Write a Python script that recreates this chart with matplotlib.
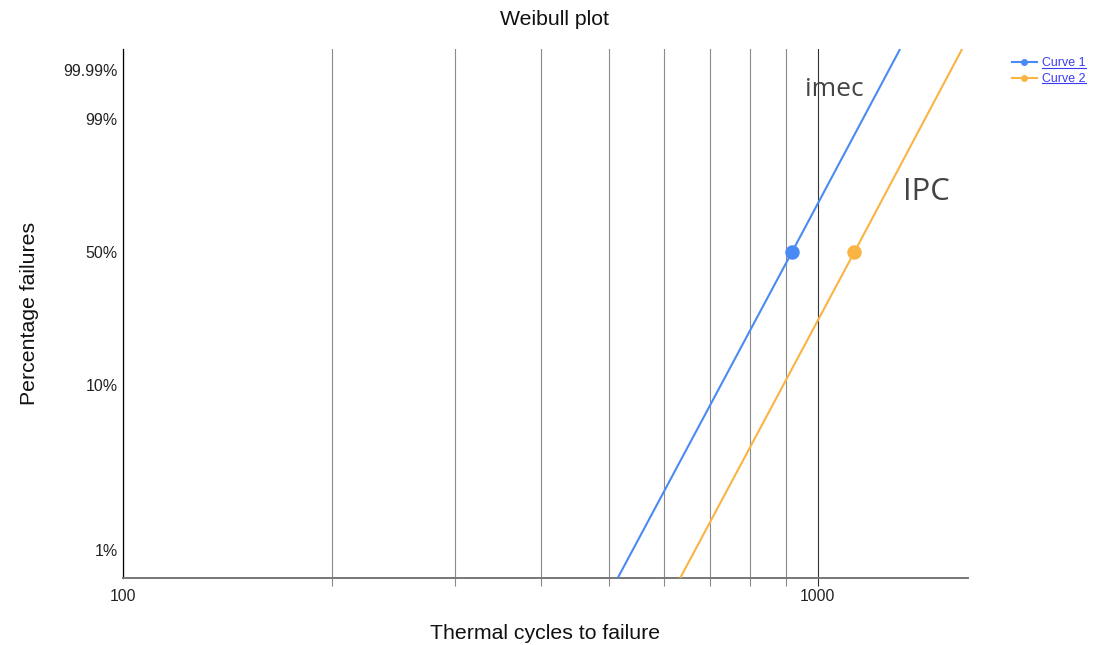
import numpy as np
import matplotlib
matplotlib.use("Agg")
import matplotlib.pyplot as plt
from matplotlib.lines import Line2D
from matplotlib.ticker import FixedLocator, NullLocator, NullFormatter
from matplotlib.transforms import IdentityTransform

# ---- data ----
series_names = ["Curve 1", "Curve 2"]
annot_labels = ["imec", "IPC"]
# points along each fitted line: (cycles, % failures); middle point = median marker
curve1_cycles = [515, 918, 1314]
curve1_pct = [0.6715, 50.0, 99.99960]
curve2_cycles = [633.5, 1129, 1614]
curve2_pct = [0.6715, 50.0, 99.99960]
y_ticks = [1, 10, 50, 99, 99.99]
y_tick_labels = ["1%", "10%", "50%", "99%", "99.99%"]
x_major = [100, 1000]
x_major_labels = ["100", "1000"]
x_minor = [200, 300, 400, 500, 600, 700, 800, 900]

BLUE = "#4a8af4"
ORANGE = "#f9b444"
FONT = "Liberation Sans"

plt.rcParams["font.family"] = [FONT, "DejaVu Sans"]

W, H = 1104, 645
fig = plt.figure(figsize=(W / 100, H / 100), dpi=100)
ax = fig.add_axes([123.3 / W, (H - 578.2) / H, (967.7 - 123.3) / W, 528.9 / H])


def fwd(p):
    q = np.clip(np.asarray(p, dtype=float) / 100.0, 1e-12, 1 - 1e-15)
    return np.log(-np.log1p(-q))


def inv(w):
    return 100.0 * (-np.expm1(-np.exp(np.asarray(w, dtype=float))))


ax.set_xscale("log")
ax.set_yscale("function", functions=(fwd, inv))

for cyc, pct, col in [(curve1_cycles, curve1_pct, BLUE), (curve2_cycles, curve2_pct, ORANGE)]:
    ax.plot(cyc, pct, color=col, lw=1.5, marker="o", markevery=[1], ms=9.4,
            solid_capstyle="butt", zorder=3, clip_on=True)

ax.set_xlim(100, 1644)
ax.set_ylim(float(inv(-5.0)), float(inv(2.515)))

# x axis ticks / grid
ax.xaxis.set_major_locator(FixedLocator(x_major))
ax.set_xticklabels(x_major_labels)
ax.xaxis.set_minor_locator(FixedLocator(x_minor))
ax.xaxis.set_minor_formatter(NullFormatter())
ax.grid(which="minor", axis="x", color="#8a8a8a", lw=0.8, zorder=1)
ax.grid(which="major", axis="x", color="#333333", lw=0.8, zorder=1)
ax.tick_params(axis="x", which="minor", length=6, width=0.8, color="#8a8a8a")
ax.tick_params(axis="x", which="major", length=6, width=0.8, color="#333333",
               labelsize=11.3, labelcolor="#222222", pad=2)
ax.xaxis.get_major_ticks()[0].tick1line.set_visible(False)

# y axis ticks
ax.yaxis.set_major_locator(FixedLocator(y_ticks))
ax.set_yticklabels(y_tick_labels)
ax.yaxis.set_minor_locator(NullLocator())
ax.tick_params(axis="y", which="major", length=0, labelsize=11.5, labelcolor="#222222", pad=4)

for s in ["top", "right"]:
    ax.spines[s].set_visible(False)
ax.spines["left"].set_color("#000000")
ax.spines["left"].set_linewidth(0.9)
ax.spines["bottom"].set_color("#777777")
ax.spines["bottom"].set_linewidth(1.4)

# titles / labels
fig.text(554.5 / W, 1 - 25 / H, "Weibull plot", ha="center", va="baseline",
         fontsize=15.3, color="#111111")
fig.text(545 / W, 1 - 639 / H, "Thermal cycles to failure", ha="center", va="baseline",
         fontsize=15.3, color="#111111")
fig.text(30 / W, 1 - 313.5 / H, "Percentage failures", ha="center", va="center",
         rotation=90, fontsize=15.3, color="#111111")

# annotations
fig.text(805 / W, 1 - 96 / H, annot_labels[0], ha="left", va="baseline",
         fontsize=19.0, color="#444444", family=["Open Sans", "DejaVu Sans"], zorder=0.5)
fig.text(903 / W, 1 - 200 / H, annot_labels[1], ha="left", va="baseline",
         fontsize=22.3, color="#444444", family=["Open Sans", "DejaVu Sans"])

# legend
handles = [Line2D([], [], color=BLUE, lw=1.5, marker="o", ms=4),
           Line2D([], [], color=ORANGE, lw=1.5, marker="o", ms=4)]
leg = fig.legend(handles, series_names, loc="upper left",
                 bbox_to_anchor=(1012 / W, 1 - 57.5 / H), bbox_transform=fig.transFigure,
                 frameon=False, fontsize=8.9, handlelength=2.0, handletextpad=0.45,
                 labelspacing=0.27, borderpad=0, borderaxespad=0, labelcolor="#3b3bf5")

fig.canvas.draw()
renderer = fig.canvas.get_renderer()
for t in leg.get_texts():
    bb = t.get_window_extent(renderer)
    y = bb.y0 + 1.5
    fig.add_artist(Line2D([bb.x0, bb.x1], [y, y], color="#3b3bf5", lw=0.8,
                          transform=IdentityTransform()))

fig.savefig("out.png", dpi=100)
